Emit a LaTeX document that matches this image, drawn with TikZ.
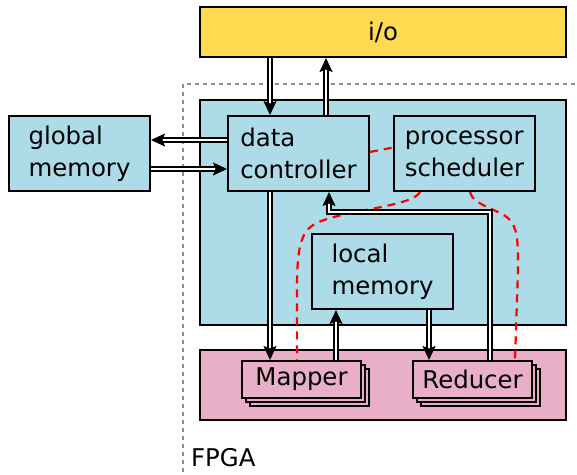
\documentclass[tikz,border=0pt]{standalone}
\usepackage{fontspec}
\setmainfont{DejaVu Sans}
\usetikzlibrary{arrows.meta,shadows,calc}

\definecolor{ioyellow}{RGB}{255,218,80}
\definecolor{blockblue}{RGB}{173,220,232}
\definecolor{unitpink}{RGB}{232,175,198}
\definecolor{fpgagray}{RGB}{140,140,140}

\tikzset{
  box/.style={draw=black, line width=2pt, align=left, inner sep=0pt,
              font=\fontsize{24.4}{32}\selectfont},
  bluebox/.style={box, fill=blockblue, minimum width=141pt, minimum height=75pt},
  unit/.style={box, fill=unitpink, minimum width=119pt, minimum height=37pt,
               double copy shadow={shadow xshift=4pt, shadow yshift=-4pt}},
  dbl/.style={draw=black, line width=1.6pt, double=white, double distance=2.6pt,
              -{Stealth[length=14pt 0 0, width=13pt 0 0, inset=2.5pt]}},
  ctrlline/.style={draw=red, line width=2.2pt, dash pattern=on 8pt off 6pt},
  fpgaline/.style={draw=fpgagray, line width=1.6pt, dash pattern=on 4pt off 4pt}
}

\begin{document}
\begin{tikzpicture}[x=1pt, y=-1pt]
  \useasboundingbox (0,0) rectangle (577,474);

  % FPGA boundary
  \draw[fpgaline] (183,480) -- (183,84) -- (585,84);
  \node[anchor=base west, font=\fontsize{24.4}{32}\selectfont, inner sep=0pt]
    (fpga) at (191,466) {FPGA};

  % outer blocks
  \node[box, fill=ioyellow, minimum width=366pt, minimum height=50pt] (io) at (383,32) {i/o};
  \node[box, fill=blockblue, minimum width=366pt, minimum height=225pt] (core) at (383,212.5) {};
  \node[box, fill=unitpink, minimum width=366pt, minimum height=70pt] (units) at (383,385) {};

  % inner blocks
  \node[bluebox] (gm) at (79.5,153.5) {global\\memory};
  \node[bluebox] (dc) at (298.5,153.5) {data\\controller};
  \node[bluebox] (ps) at (464.5,153.5) {processor\\scheduler};
  \node[bluebox] (lm) at (382.5,271.5) {local\\memory};

  % processing units
  \node[unit] (map) at (301.5,379.5) {Mapper};
  \node[unit] (red) at (472.5,379.5) {Reducer};

  % control signals from the scheduler
  \coordinate (xsa) at (420,0);
  \coordinate (xsb) at (470,0);
  \coordinate (xma) at (297,0);
  \coordinate (xra) at (515,0);
  \draw[ctrlline] ($(dc.east)+(0,-1.5)$) -- ($(ps.west)+(0,-6)$);
  \draw[ctrlline] (ps.south -| xsa) .. controls (413,207) and (340,210) .. (315,224)
        .. controls (300,232) and (297,250) .. (297,290) -- (map.north -| xma);
  \draw[ctrlline] (ps.south -| xsb) .. controls (473,205) and (495,208) .. (508,218)
        .. controls (518,228) and (518,240) .. (518,270) -- (red.north -| xra);

  % data paths
  \coordinate (xio) at (270,0);
  \coordinate (xout) at (326,0);
  \coordinate (ygo) at (0,140);
  \coordinate (yback) at (0,169);
  \coordinate (xmapin) at (270,0);
  \coordinate (xmapout) at (336,0);
  \coordinate (xredin) at (429,0);
  \coordinate (xredout) at (490,0);
  \coordinate (yret) at (0,212);
  \coordinate (xret) at (329,0);

  \draw[dbl] (io.south -| xio) -- (dc.north -| xio);
  \draw[dbl] (dc.north -| xout) -- (io.south -| xout);
  \draw[dbl] (dc.west |- ygo) -- (gm.east |- ygo);
  \draw[dbl] (gm.east |- yback) -- (dc.west |- yback);
  \draw[dbl] (dc.south -| xmapin) -- (map.north -| xmapin);
  \draw[dbl] (map.north -| xmapout) -- (lm.south -| xmapout);
  \draw[dbl] (lm.south -| xredin) -- (red.north -| xredin);
  \draw[dbl] (red.north -| xredout) |- (xret |- yret) -- (dc.south -| xret);
\end{tikzpicture}
\end{document}
